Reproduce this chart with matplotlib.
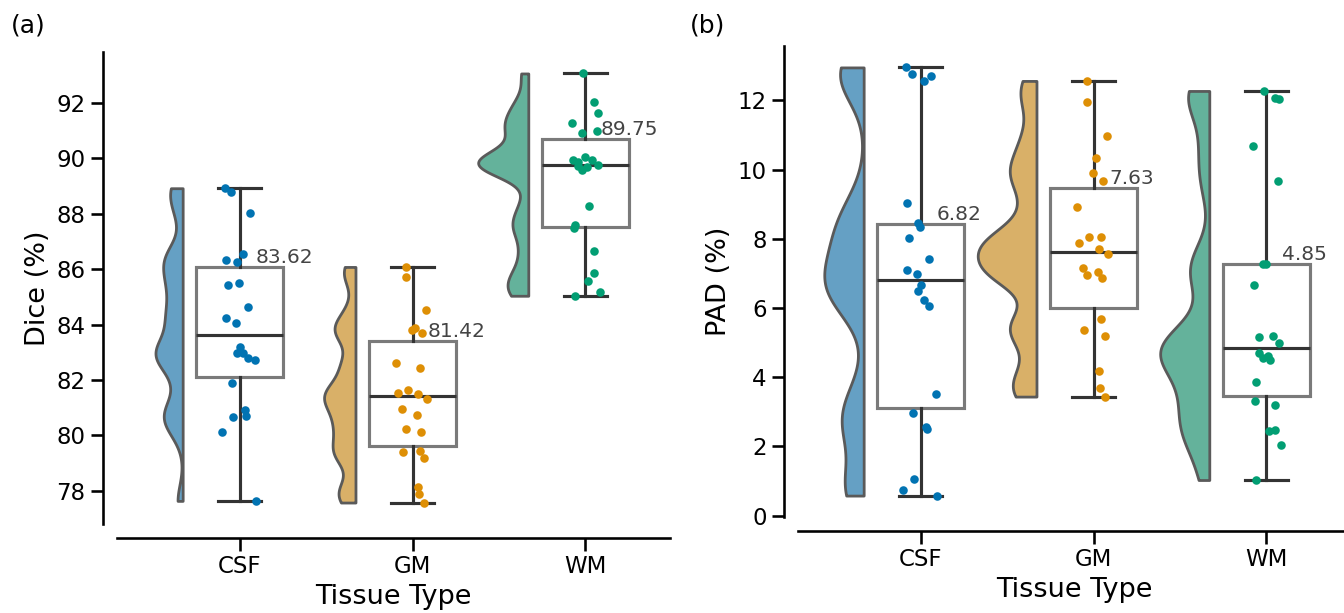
import numpy as np
import matplotlib
matplotlib.use("Agg")
import matplotlib.pyplot as plt

tissues = ["CSF", "GM", "WM"]

dice_csf = [88.92, 88.80, 88.04, 86.54, 86.32, 86.27, 85.50, 85.42, 84.62, 84.24, 84.05,
            83.19, 82.98, 82.96, 82.81, 82.74, 81.90, 80.91, 80.70, 80.67, 80.14, 77.64]
dice_gm = [86.08, 85.70, 84.52, 83.86, 83.80, 83.68, 82.62, 82.43, 81.64, 81.55, 81.51,
           81.33, 80.94, 80.73, 80.23, 80.11, 79.44, 79.40, 79.20, 78.14, 77.88, 77.58]
dice_wm = [93.06, 92.04, 91.65, 91.29, 90.99, 90.92, 90.05, 89.94, 89.93, 89.85, 89.77,
           89.73, 89.67, 89.57, 88.28, 87.61, 87.50, 86.65, 85.87, 85.58, 85.19, 85.04]

pad_csf = [12.95, 12.77, 12.70, 12.56, 9.03, 8.46, 8.34, 8.03, 7.42, 7.11, 6.99,
           6.65, 6.48, 6.24, 6.07, 3.52, 2.97, 2.55, 2.51, 1.06, 0.74, 0.58]
pad_gm = [12.56, 11.96, 10.96, 10.33, 9.90, 9.67, 8.91, 8.05, 8.04, 7.87, 7.69,
          7.57, 7.16, 7.05, 6.94, 6.87, 5.69, 5.35, 5.20, 4.18, 3.68, 3.44]
pad_wm = [12.27, 12.07, 12.05, 10.67, 9.66, 7.28, 7.28, 6.67, 5.20, 5.16, 4.99,
          4.71, 4.60, 4.55, 4.50, 3.87, 3.32, 3.21, 2.48, 2.46, 2.05, 1.03]

point_colors = ["#0173B2", "#DE8F05", "#029E73"]
cloud_colors = ["#65A0C4", "#D9B068", "#64B29B"]

plt.rcParams.update({
    "axes.linewidth": 1.875,
    "xtick.major.width": 1.875, "ytick.major.width": 1.875,
    "xtick.major.size": 9, "ytick.major.size": 9,
    "xtick.labelsize": 16.5, "ytick.labelsize": 16.5,
    "axes.labelsize": 19.5,
})


def kde(vals, grid, bw=0.2):
    vals = np.asarray(vals)
    sd = bw * vals.std(ddof=1)
    d = np.exp(-0.5 * ((grid[:, None] - vals[None, :]) / sd) ** 2).sum(axis=1)
    return d / (len(vals) * sd * np.sqrt(2 * np.pi))


def raincloud(ax, groups, ylabel, max_half):
    rng = np.random.default_rng(3)
    grids = [np.linspace(min(g), max(g), 300) for g in groups]
    dens = [kde(g, gr) for g, gr in zip(groups, grids)]
    top = max(d.max() for d in dens)
    for i, (gr, d) in enumerate(zip(grids, dens)):
        edge = i - 0.33
        ax.fill_betweenx(gr, edge - d / top * max_half, edge, facecolor=cloud_colors[i],
                         edgecolor="#5a5a5a", lw=2, zorder=1)
    ax.boxplot(groups, positions=range(len(groups)), widths=0.5, showfliers=False,
               patch_artist=True,
               boxprops=dict(facecolor="white", edgecolor="#7a7a7a", lw=2.25),
               whiskerprops=dict(color="#333333", lw=2.25),
               capprops=dict(color="#333333", lw=2.25),
               medianprops=dict(color="#333333", lw=2.25), zorder=2)
    for i, g in enumerate(groups):
        jit = rng.uniform(-0.1, 0.1, len(g))
        ax.scatter(i + jit, g, s=38, color=point_colors[i], lw=0, zorder=3)
        med = np.median(g)
        q3 = np.percentile(g, 75)
        ax.text(i + 0.09, q3, f"{med:.2f}", ha="left", va="bottom", fontsize=14.5,
                color="#444444", zorder=4)
    ax.set_xlim(-0.71, 2.49)
    ax.set_xticks(range(len(tissues)))
    ax.set_xticklabels(tissues)
    ax.set_xlabel("Tissue Type")
    ax.set_ylabel(ylabel)
    for s in ["top", "right"]:
        ax.spines[s].set_visible(False)
    ax.spines["left"].set_position(("outward", 10))
    ax.spines["bottom"].set_position(("outward", 10))


fig = plt.figure(figsize=(13.44, 6.13), dpi=100)
ax_a = fig.add_axes([117 / 1344, 1 - 524 / 613, 553 / 1344, 472 / 613])
ax_b = fig.add_axes([798 / 1344, 1 - 517 / 613, 553 / 1344, 471 / 613])

raincloud(ax_a, [dice_csf, dice_gm, dice_wm], "Dice (%)", 0.29)
raincloud(ax_b, [pad_csf, pad_gm, pad_wm], "PAD (%)", 0.34)

fig.text(0.008, 0.958, "(a)", fontsize=18, va="center")
fig.text(0.513, 0.958, "(b)", fontsize=18, va="center")

fig.savefig("out.png", dpi=100)
